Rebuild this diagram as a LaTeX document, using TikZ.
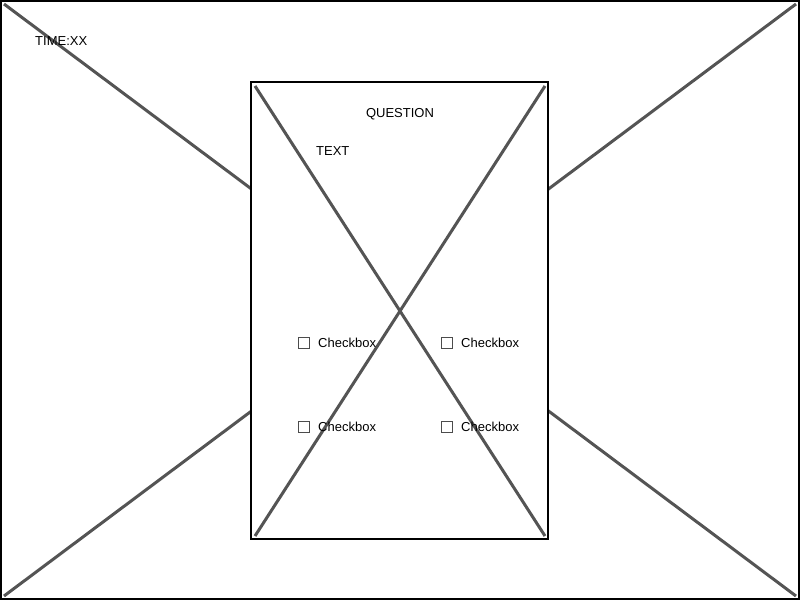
\documentclass[tikz,border=0pt]{standalone}
\usepackage{fontspec}
\setmainfont{Liberation Sans}
\begin{document}
\begin{tikzpicture}[x=1pt,y=-1pt,
    frame/.style={draw=black,line width=2pt},
    cross/.style={draw=black!67,line width=3pt},
    lbl/.style={inner sep=0pt,font=\fontsize{13}{15}\selectfont},
    box/.style={draw=black!70,line width=1pt,minimum size=11pt,inner sep=0pt}]
        \useasboundingbox (0,0) rectangle (800,600);
        \coordinate (tl) at (1,1);
        \coordinate (br) at (799,599);
        \coordinate (itl) at (251,82);
        \coordinate (ibr) at (548,539);

        \draw[cross] (4,4) -- (796,596) (796,4) -- (4,596);
        \draw[frame] (tl) rectangle (br);
        \draw[frame,fill=white] (itl) rectangle (ibr);
        \draw[cross] (255,86) -- (545,536) (545,86) -- (255,536);

        \node[lbl,anchor=west] (time) at (35,41) {TIME:XX};
        \node[lbl] (question) at (400,114) {QUESTION};
        \node[lbl,anchor=west] (text) at (316,151) {TEXT};

        \node[box] (b1) at (304,343) {};
        \node[box] (b2) at (447,343) {};
        \node[box] (b3) at (304,427) {};
        \node[box] (b4) at (447,427) {};
        \node[lbl,anchor=west] at (318,343) {Checkbox};
        \node[lbl,anchor=west] at (461,343) {Checkbox};
        \node[lbl,anchor=west] at (318,427) {Checkbox};
        \node[lbl,anchor=west] at (461,427) {Checkbox};
    \end{tikzpicture}
\end{document}
